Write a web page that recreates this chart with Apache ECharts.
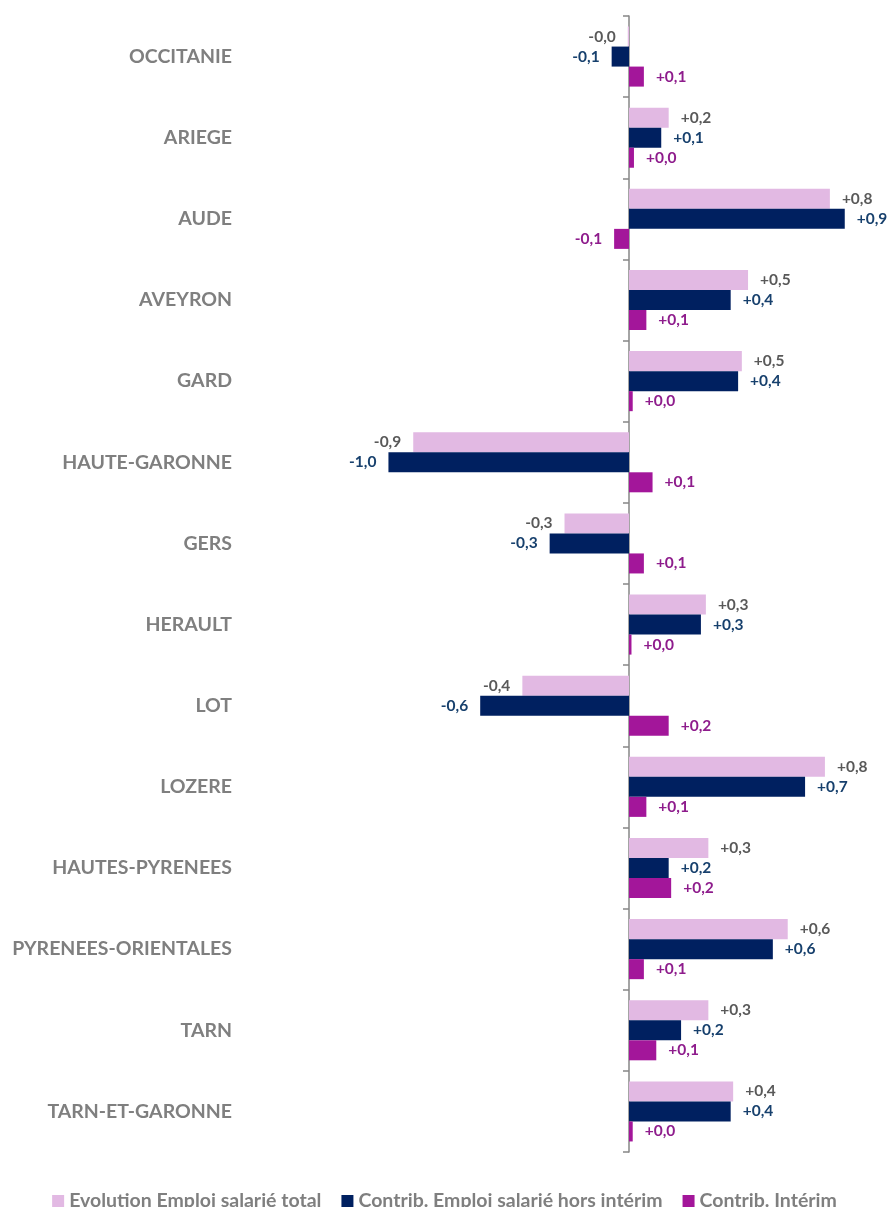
<!DOCTYPE html>
<html>
<head>
<meta charset="utf-8">
<script src="https://cdn.jsdelivr.net/npm/echarts@6/dist/echarts.min.js"></script>
<style>
  html, body { margin: 0; padding: 0; background: #fff; }
  #main { width: 889px; height: 1207px; }
</style>
</head>
<body>
<div id="main"></div>
<script>
// departements, top to bottom
var categories = ['OCCITANIE', 'ARIEGE', 'AUDE', 'AVEYRON', 'GARD', 'HAUTE-GARONNE', 'GERS',
  'HERAULT', 'LOT', 'LOZERE', 'HAUTES-PYRENEES', 'PYRENEES-ORIENTALES', 'TARN', 'TARN-ET-GARONNE'];

var evolTotal = [-0.005, 0.16, 0.81, 0.48, 0.455, -0.87, -0.26, 0.31, -0.43, 0.79, 0.32, 0.64, 0.32, 0.42];
var contribHorsInterim = [-0.07, 0.13, 0.87, 0.41, 0.44, -0.97, -0.32, 0.29, -0.60, 0.71, 0.16, 0.58, 0.21, 0.41];
var contribInterim = [0.06, 0.02, -0.06, 0.07, 0.015, 0.095, 0.06, 0.01, 0.16, 0.07, 0.17, 0.06, 0.11, 0.015];

var seriesNames = ['Evolution Emploi salarié total', 'Contrib. Emploi salarié hors intérim', 'Contrib. Intérim'];

var FONT = 'Lato';

function fmt(v) {
  return (v < 0 ? '-' : '+') + Math.abs(v).toFixed(1).replace('.', ',');
}

function items(arr) {
  return arr.map(function (v) {
    return { value: v, label: { position: v < 0 ? 'left' : 'right' } };
  });
}

function makeSeries(name, arr, color, labelColor) {
  return {
    name: name,
    type: 'bar',
    yAxisIndex: 0,
    barGap: '0%',
    barCategoryGap: '26%',
    itemStyle: { color: color },
    label: {
      show: true,
      distance: 12,
      fontFamily: FONT,
      fontWeight: 'bold',
      fontSize: 15.5,
      color: labelColor,
      formatter: function (p) { return fmt(p.value); }
    },
    data: items(arr)
  };
}

var chart = echarts.init(document.getElementById('main'));
chart.setOption({
  animation: false,
  grid: { left: 381, right: 12, top: 16, bottom: 55, containLabel: false },
  legend: {
    top: 1186,
    left: 'center',
    icon: 'rect',
    itemWidth: 12,
    itemHeight: 12,
    itemGap: 20,
    textStyle: { fontFamily: FONT, fontWeight: 'bold', fontSize: 19.5, color: '#7f7f7f' },
    data: seriesNames
  },
  xAxis: {
    type: 'value',
    min: -1.0,
    max: 1.0,
    axisLine: { show: false },
    axisTick: { show: false },
    axisLabel: { show: false },
    splitLine: { show: false }
  },
  yAxis: [
    {
      type: 'category',
      data: categories,
      inverse: true,
      position: 'left',
      axisLine: { show: true, onZero: true, lineStyle: { color: '#868686', width: 1.5 } },
      axisTick: { show: true, length: 6, lineStyle: { color: '#868686', width: 1.5 } },
      axisLabel: { show: false }
    },
    {
      type: 'category',
      data: categories,
      inverse: true,
      position: 'left',
      axisLine: { show: false, onZero: false },
      axisTick: { show: false },
      axisLabel: {
        margin: 149,
        fontFamily: FONT,
        fontWeight: 'bold',
        fontSize: 19.5,
        color: '#7f7f7f'
      }
    }
  ],
  series: [
    makeSeries(seriesNames[0], evolTotal, '#e2b9e3', '#595959'),
    makeSeries(seriesNames[1], contribHorsInterim, '#002060', '#17406d'),
    makeSeries(seriesNames[2], contribInterim, '#a3169a', '#8e1c8c')
  ]
});
</script>
</body>
</html>
